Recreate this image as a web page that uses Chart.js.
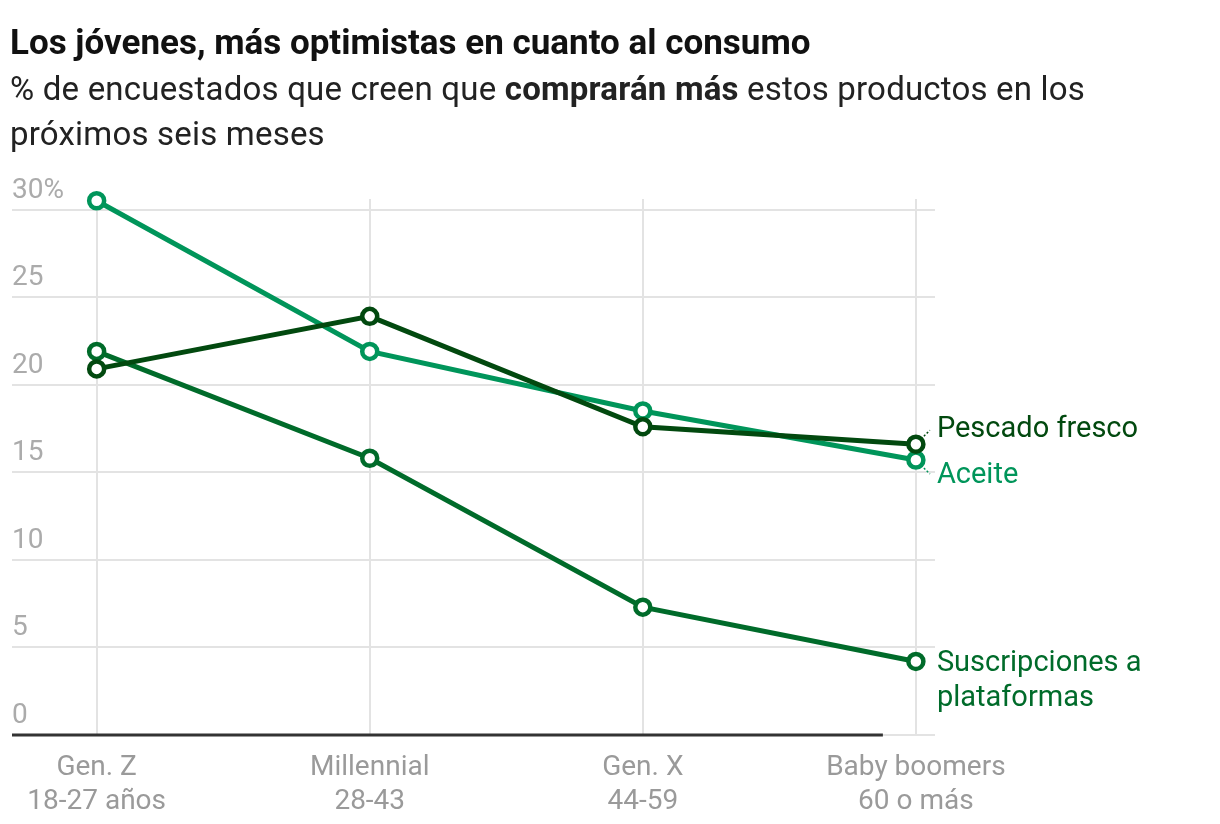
<!DOCTYPE html>
<html>
<head>
<meta charset="utf-8">
<script src="https://cdn.jsdelivr.net/npm/chart.js@4"></script>
<style>
  body { margin: 0; background: #fff; }
  #wrap { position: relative; width: 1220px; height: 824px; }
  #chart { position: absolute; left: 0; top: 0; }
  .title { position: absolute; left: 10px; top: 22px; font: 700 35px 'Roboto', sans-serif; color: #111; letter-spacing: 0px; white-space: nowrap; }
  .sub { position: absolute; left: 10px; top: 66px; font: 400 33px 'Roboto', sans-serif; color: #222; line-height: 45px; white-space: nowrap; letter-spacing: 0.2px; }
</style>
</head>
<body>
<div id="wrap">
  <canvas id="chart" width="1220" height="824"></canvas>
  <div class="title">Los jóvenes, más optimistas en cuanto al consumo</div>
  <div class="sub">% de encuestados que creen que <b>comprarán más</b> estos productos en los<br>próximos seis meses</div>
</div>
<script>
'use strict';

const generations = [['Gen. Z', '18-27 años'], ['Millennial', '28-43'], ['Gen. X', '44-59'], ['Baby boomers', '60 o más']];
const yTicks = [0, 5, 10, 15, 20, 25, 30];

const aceite = [30.5, 21.9, 18.5, 15.7];
const pescado = [20.9, 23.9, 17.6, 16.6];
const suscripciones = [21.9, 15.8, 7.3, 4.2];

const colorAceite = '#00955a';
const colorPescado = '#02490f';
const colorSuscrip = '#006b2a';

function series(label, values, color, endLabel) {
  return {
    label: label,
    data: values.map((v, i) => ({ x: i, y: v })),
    borderColor: color,
    backgroundColor: '#fff',
    borderWidth: 5,
    pointRadius: 7.5,
    pointBorderWidth: 4.5,
    pointBackgroundColor: '#fff',
    pointBorderColor: color,
    clip: false,
    endLabel: endLabel,
  };
}

// labels at the end of each line, plus the short dashed leader
const endLabels = {
  id: 'endLabels',
  afterDatasetsDraw(chart) {
    const ctx = chart.ctx;
    ctx.save();
    ctx.font = '400 29px Roboto, sans-serif';
    ctx.textBaseline = 'middle';
    chart.data.datasets.forEach((ds, i) => {
      const pts = chart.getDatasetMeta(i).data;
      const p = pts[pts.length - 1];
      const e = ds.endLabel;
      ctx.fillStyle = ds.borderColor;
      e.lines.forEach((t, k) => ctx.fillText(t, p.x + 21, p.y + e.dy + k * 35));
      if (e.lead) {
        ctx.strokeStyle = ds.borderColor;
        ctx.lineWidth = 1.5;
        ctx.setLineDash([2, 2]);
        ctx.beginPath();
        ctx.moveTo(p.x + e.lead[0], p.y + e.lead[1]);
        ctx.lineTo(p.x + e.lead[2], p.y + e.lead[3]);
        ctx.stroke();
        ctx.setLineDash([]);
      }
    });
    ctx.restore();
  }
};

// dark baseline under the plot
const baseline = {
  id: 'baseline',
  beforeDatasetsDraw(chart) {
    const ctx = chart.ctx;
    const y = chart.scales.y.getPixelForValue(0);
    const xEnd = chart.scales.x.getPixelForValue(3) - 33;
    ctx.save();
    ctx.strokeStyle = '#333';
    ctx.lineWidth = 3;
    ctx.beginPath();
    ctx.moveTo(chart.chartArea.left, y);
    ctx.lineTo(xEnd, y);
    ctx.stroke();
    ctx.restore();
  }
};

new Chart(document.getElementById('chart'), {
  type: 'line',
  data: {
    datasets: [
      series('Pescado fresco', pescado, colorPescado, { lines: ['Pescado fresco'], dy: -14, lead: [8, -8, 14, -14] }),
      series('Aceite', aceite, colorAceite, { lines: ['Aceite'], dy: 16, lead: [8, 8, 14, 14] }),
      series('Suscripciones a plataformas', suscripciones, colorSuscrip, { lines: ['Suscripciones a', 'plataformas'], dy: 2 }),
    ],
  },
  options: {
    responsive: false,
    animation: false,
    layout: { padding: { left: 10, right: 285, top: 199, bottom: 0 } },
    plugins: { legend: { display: false }, tooltip: { enabled: false } },
    scales: {
      x: {
        type: 'linear',
        min: -0.31,
        max: 3.07,
        afterBuildTicks: s => { s.ticks = generations.map((g, i) => ({ value: i })); },
        afterFit: s => { s.height = 89; },
        grid: { color: '#e3e3e3', lineWidth: 2, drawTicks: false },
        border: { display: false },
        ticks: {
          callback: v => generations[v],
          color: '#9a9a9a',
          font: { family: 'Roboto', size: 28, lineHeight: 1.22 },
          padding: 16,
          maxRotation: 0,
        },
      },
      y: {
        min: 0,
        max: 30.6,
        afterBuildTicks: s => { s.ticks = yTicks.map(v => ({ value: v })); },
        afterFit: s => { s.width = 0; },
        grid: { color: '#e3e3e3', lineWidth: 2, drawTicks: false },
        border: { display: false },
        ticks: {
          mirror: true,
          padding: 0,
          labelOffset: -19,
          callback: v => v === 30 ? '30%' : String(v),
          color: '#ababab',
          font: { family: 'Roboto', size: 28 },
        },
      },
    },
  },
  plugins: [baseline, endLabels],
});
</script>
</body>
</html>
